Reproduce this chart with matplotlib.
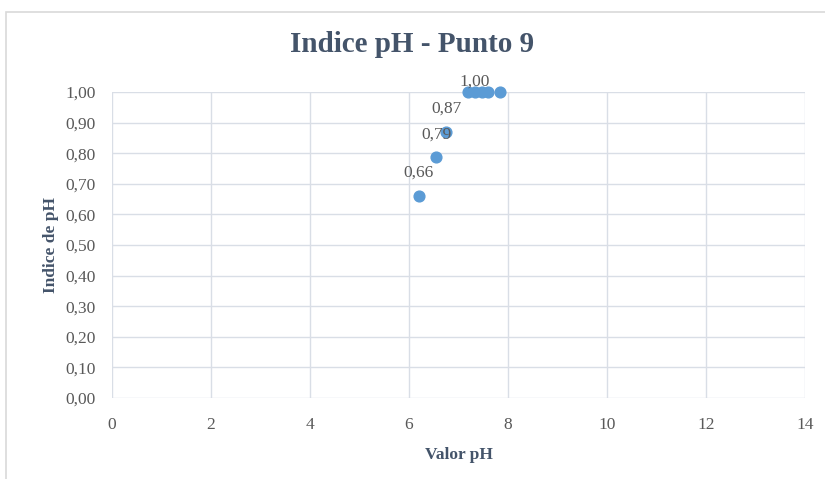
import matplotlib
matplotlib.use("Agg")
import matplotlib.pyplot as plt
from matplotlib.patches import Rectangle
from matplotlib.ticker import FuncFormatter, MultipleLocator

# datos
valor_ph = [6.20, 6.55, 6.75, 7.19, 7.33, 7.47, 7.60, 7.84]
indice_ph = [0.66, 0.786, 0.87, 1.00, 1.00, 1.00, 1.00, 1.00]
etiquetados = [0, 1, 2, 4]   # puntos con etiqueta visible

plt.rcParams['font.family'] = ['Liberation Serif', 'DejaVu Serif']

fig = plt.figure(figsize=(8.25, 4.79), dpi=100)
ax = fig.add_axes([112/825, 1 - 398/479, (805 - 112)/825, (398 - 92)/479])

# borde del area del grafico
fig.patches.append(Rectangle((6/825, -0.05), 1.0, 1 - 12/479 + 0.05, transform=fig.transFigure,
                             fill=False, edgecolor='#D9D9D9', linewidth=1.2))

grid_color = '#D9DEE6'
ax.set_xlim(0, 14)
ax.set_ylim(0, 1.0)
ax.xaxis.set_major_locator(MultipleLocator(2))
ax.yaxis.set_major_locator(MultipleLocator(0.1))
ax.yaxis.set_major_formatter(FuncFormatter(lambda v, p: f"{v:.2f}".replace('.', ',')))
ax.grid(True, color=grid_color, linewidth=1.0)
ax.set_axisbelow(True)
for s in ax.spines.values():
    s.set_visible(False)
ax.tick_params(axis='x', length=0, labelsize=12.5, labelcolor='#595959', pad=14)
ax.tick_params(axis='y', length=0, labelsize=12.5, labelcolor='#595959', pad=12)

ax.scatter(valor_ph, indice_ph, s=60, color='#5B9BD5', zorder=3, clip_on=False)

for i in etiquetados:
    txt = f"{indice_ph[i]:.2f}".replace('.', ',')
    off = 2 if indice_ph[i] >= 1.0 else 11
    ax.annotate(txt, (valor_ph[i], indice_ph[i]), xytext=(0, off), textcoords='offset points',
                ha='center', va='bottom', fontsize=12.5, color='#595959', zorder=4)

fig.text(0.5, 1 - 45/479, "Indice pH - Punto 9", ha='center', va='center',
         fontsize=21, fontweight='bold', color='#44546A')
ax.set_xlabel("Valor pH", fontsize=12.5, fontweight='bold', color='#44546A', labelpad=10)
ax.set_ylabel("Indice de pH", fontsize=12.5, fontweight='bold', color='#44546A', labelpad=4)

fig.savefig("out.png", dpi=100)
